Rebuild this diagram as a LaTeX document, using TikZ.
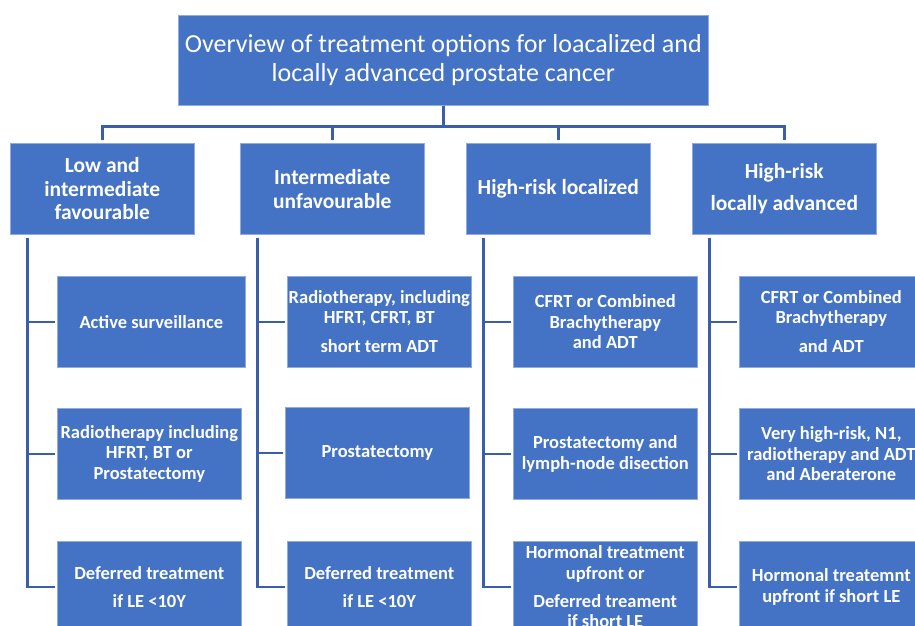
\documentclass[tikz,border=0pt]{standalone}
\usepackage{fontspec}
\setmainfont{Carlito}
\definecolor{boxblue}{RGB}{68,114,196}
\definecolor{lineblue}{RGB}{59,94,170}
\begin{document}
\begin{tikzpicture}[x=1pt,y=-1pt,
  box/.style={fill=boxblue, draw=boxblue!60!white, line width=0.6pt, text=white, align=center, inner sep=0pt, anchor=north west},
  titlebox/.style={box, font=\fontsize{26}{29}\selectfont, minimum width=530pt, minimum height=90pt},
  catbox/.style={box, font=\bfseries\fontsize{21.5}{23.5}\selectfont, minimum width=184pt, minimum height=91pt},
  subbox/.style={box, font=\bfseries\fontsize{18.5}{20.5}\selectfont, minimum width=184pt, minimum height=91pt},
  conn/.style={draw=lineblue, line width=2.5pt}]
\useasboundingbox (0,0) rectangle (915,625);
\clip (0,0) rectangle (915,625);

\node[titlebox] (t) at (178,15) {Overview of treatment options for loacalized and\\locally advanced prostate cancer};

\node[catbox] (c1) at (10,143) {Low and\\intermediate\\favourable};
\node[catbox] (c2) at (240,143) {Intermediate\\unfavourable};
\node[catbox] (c3) at (466,143) {High-risk localized};
\node[catbox] (c4) at (692,143) {High-risk\\[8.5pt]locally advanced};

\node[subbox, minimum width=188pt] (s11) at (57,276) {Active surveillance};
\node[subbox] (s12) at (57,408) {Radiotherapy including\\HFRT, BT or\\Prostatectomy};
\node[subbox] (s13) at (57,541) {Deferred treatment\\[7.5pt]if LE <10Y};

\node[subbox] (s21) at (287,276) {Radiotherapy, including\\HFRT, CFRT, BT\\[8.5pt]short term ADT};
\node[subbox] (s22) at (285,407) {Prostatectomy};
\node[subbox] (s23) at (287,541) {Deferred treatment\\[7.5pt]if LE <10Y};

\node[subbox] (s31) at (513,276) {CFRT or Combined\\Brachytherapy\\and ADT};
\node[subbox] (s32) at (513,408) {Prostatectomy and\\lymph-node disection};
\node[subbox] (s33) at (513,541) {Hormonal treatment\\upfront or\\[7.5pt]Deferred treament\\if short LE};

\node[subbox] (s41) at (739,276) {CFRT or Combined\\Brachytherapy\\[8.5pt]and ADT};
\node[subbox] (s42) at (739,408) {Very high-risk, N1,\\radiotherapy and ADT\\and Aberaterone};
\node[subbox] (s43) at (739,541) {Hormonal treatemnt\\upfront if short LE};

\coordinate (bus) at ([yshift=-21pt]t.south);
\draw[conn] (t.south) -- (bus);
\foreach \c in {c1,c2,c3,c4} \draw[conn, shorten >=3pt] (bus) -| (\c.north);

\foreach \i in {1,2,3,4} \foreach \j in {1,2,3}
  \draw[conn, shorten <=3pt, shorten >=2pt] ([xshift=17.5pt]c\i.south west) |- (s\i\j.west);
\end{tikzpicture}
\end{document}
